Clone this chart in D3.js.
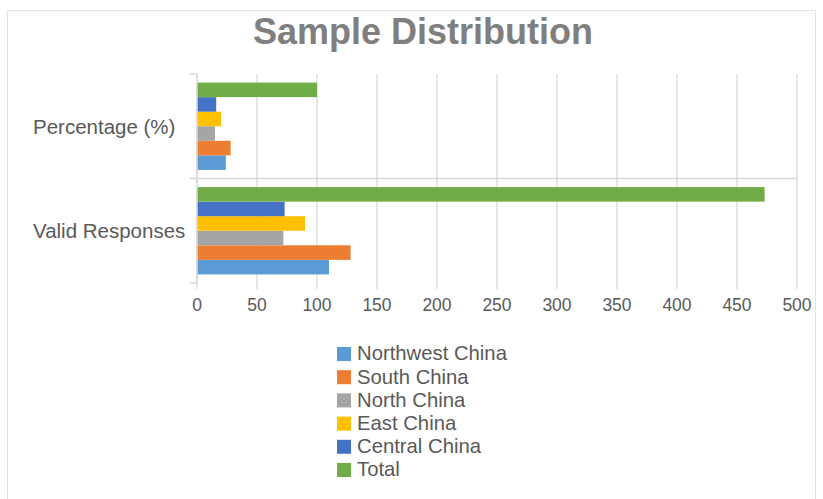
<!DOCTYPE html>
<html><head><meta charset="utf-8">
<script src="https://cdn.jsdelivr.net/npm/d3@7"></script>
<style>body{margin:0;background:#fff;}svg{display:block;font-family:"Liberation Sans",Arial,sans-serif;}</style>
</head><body>
<svg id="c" width="823" height="499"></svg>
<script>
const categories = ["Percentage (%)", "Valid Responses"];
const seriesNames = ["Northwest China", "South China", "North China", "East China", "Central China", "Total"];
const seriesColors = ["#5B9BD5", "#ED7D31", "#A5A5A5", "#FFC000", "#4472C4", "#70AD47"];
const northwest = [24, 110];
const south = [28, 128];
const north = [15, 72];
const east = [20, 90];
const central = [16, 73];
const total = [100, 473];
const xTicks = [0, 50, 100, 150, 200, 250, 300, 350, 400, 450, 500];
const title = "Sample Distribution";

const values = [northwest, south, north, east, central, total];
const svg = d3.select("#c");

// chart border
svg.append("rect").attr("x", 7.5).attr("y", 10.5).attr("width", 808).attr("height", 520)
  .attr("fill", "none").attr("stroke", "#e3e3e3");

const x = d3.scaleLinear().domain([0, 500]).range([197, 797]);
const y = d3.scaleBand().domain(categories).range([74, 283]).padding(0);
// within band: Total on top, Northwest at bottom
const inner = d3.scaleBand().domain(seriesNames.slice().reverse()).range([0, y.bandwidth()])
  .paddingInner(0).paddingOuter(0.59);

// vertical gridlines
svg.append("g").selectAll("line").data(xTicks).join("line")
  .attr("x1", d => x(d)).attr("x2", d => x(d)).attr("y1", 74).attr("y2", 289)
  .attr("stroke", "#dedede").attr("stroke-width", 1.5);

// category separator line
svg.append("line").attr("x1", 190).attr("x2", x(500)).attr("y1", y(categories[1])).attr("y2", y(categories[1]))
  .attr("stroke", "#d9d9d9").attr("stroke-width", 1.5);

// bars
seriesNames.forEach((s, si) => {
  svg.append("g").selectAll("rect").data(categories).join("rect")
    .attr("x", x(0))
    .attr("y", (c) => y(c) + inner(s))
    .attr("width", (c, i) => x(values[si][i]) - x(0))
    .attr("height", inner.bandwidth())
    .attr("fill", seriesColors[si]);
});

// left axis
const yAxis = svg.append("g");
yAxis.append("line").attr("x1", 197).attr("x2", 197).attr("y1", 74).attr("y2", 283)
  .attr("stroke", "#d9d9d9").attr("stroke-width", 1.5);
yAxis.selectAll("line.t").data([74, y(categories[1]), 283]).join("line").attr("class", "t")
  .attr("x1", 190).attr("x2", 197).attr("y1", d => d).attr("y2", d => d)
  .attr("stroke", "#d9d9d9").attr("stroke-width", 1.5);
yAxis.selectAll("text").data(categories).join("text")
  .attr("x", 33).attr("y", c => y(c) + y.bandwidth() / 2 + 2)
  .attr("dominant-baseline", "middle")
  .attr("font-size", 20.5).attr("fill", "#595959").text(c => c);

// x tick labels
svg.append("g").selectAll("text").data(xTicks).join("text")
  .attr("x", d => x(d)).attr("y", 311).attr("text-anchor", "middle")
  .attr("font-size", 17.5).attr("fill", "#595959").text(d => d);

// title
svg.append("text").attr("x", 423).attr("y", 44).attr("text-anchor", "middle")
  .attr("font-size", 36).attr("font-weight", "bold").attr("fill", "#7f7f7f").text(title);

// legend
const lg = svg.append("g").selectAll("g").data(seriesNames).join("g")
  .attr("transform", (d, i) => `translate(337, ${354 + i * 23.2})`);
lg.append("rect").attr("x", 0).attr("y", -7).attr("width", 14).attr("height", 14)
  .attr("fill", (d, i) => seriesColors[i]);
lg.append("text").attr("x", 20).attr("y", 1).attr("dominant-baseline", "middle")
  .attr("font-size", 20.3).attr("fill", "#595959").text(d => d);
</script>
</body></html>
